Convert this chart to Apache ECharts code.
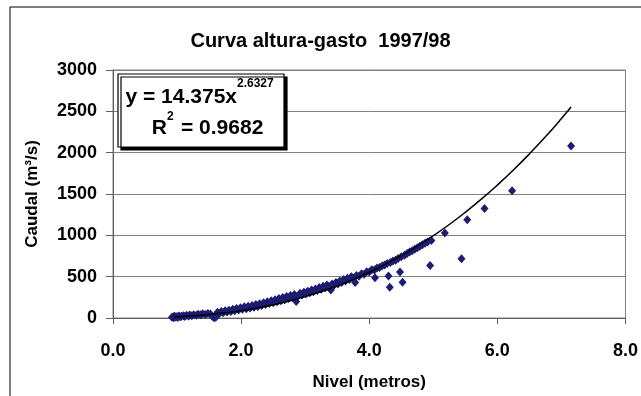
<!DOCTYPE html>
<html>
<head>
<meta charset="utf-8">
<script src="https://cdn.jsdelivr.net/npm/echarts@6/dist/echarts.min.js"></script>
<style>html,body{margin:0;padding:0;background:#fff}#c{width:641px;height:396px}</style>
</head>
<body>
<div id="c"></div>
<script>
var titleText = 'Curva altura-gasto  1997/98';
var xName = 'Nivel (metros)';
var yName = 'Caudal (m\u00b3/s)';
var xTicks = [0, 2, 4, 6, 8];
var yTicks = [0, 500, 1000, 1500, 2000, 2500, 3000];

var nivel = [0.92,0.94,0.95,0.96,0.98,1.00,1.01,1.03,1.05,1.07,1.10,1.12,1.15,1.18,1.20,1.23,1.26,1.30,1.33,1.37,1.40,1.44,1.48,1.52,1.55,1.57,1.59,1.61,1.63,1.66,1.69,1.72,1.75,1.78,1.81,1.84,1.87,1.90,1.93,1.96,1.99,2.02,2.05,2.08,2.11,2.14,2.17,2.20,2.23,2.26,2.29,2.32,2.35,2.38,2.41,2.44,2.47,2.50,2.53,2.56,2.59,2.62,2.65,2.68,2.71,2.74,2.77,2.80,2.83,2.86,2.88,2.92,2.95,2.98,3.01,3.04,3.07,3.10,3.13,3.16,3.19,3.22,3.25,3.28,3.31,3.34,3.37,3.40,3.42,3.45,3.48,3.51,3.54,3.57,3.60,3.63,3.66,3.69,3.72,3.75,3.78,3.80,3.84,3.88,3.92,3.96,4.00,4.04,4.09,4.08,4.12,4.16,4.20,4.24,4.30,4.32,4.28,4.33,4.37,4.41,4.45,4.48,4.52,4.50,4.55,4.59,4.63,4.67,4.71,4.75,4.79,4.83,4.87,4.91,4.95,4.97,5.18,5.44,5.53,5.80,6.23,7.15];
var caudal = [8,15,4,20,12,18,6,24,14,22,28,18,32,24,36,28,40,32,45,38,50,42,55,48,20,8,4,14,70,55,80,62,88,72,95,80,105,88,115,98,125,105,135,112,142,120,152,130,162,140,172,150,185,162,196,175,210,185,222,198,235,210,248,222,260,235,272,248,285,200,262,300,278,312,290,325,305,340,318,352,332,368,348,385,362,400,378,340,412,395,430,412,448,430,465,448,482,465,500,485,428,515,505,535,530,560,555,585,488,580,605,610,630,640,508,372,658,670,690,700,720,556,432,740,760,780,798,815,832,850,868,885,905,918,636,936,1028,716,1188,1325,1540,2080];

var trendX = [0.95,1.0,1.25,1.5,1.75,2.0,2.25,2.5,2.75,3.0,3.25,3.5,3.75,4.0,4.25,4.5,4.75,5.0,5.25,5.5,5.75,6.0,6.25,6.5,6.75,7.0,7.15];
var trendY = [12.6,14.4,25.9,41.8,62.7,89.2,121.6,160.4,206.2,259.2,320.1,389.0,466.6,552.9,648.7,753.8,869.0,995.0,1131,1278.6,1437.5,1608,1790,1985,2192,2412,2552];

var FONT = '"Liberation Sans", Arial, sans-serif';
var points = nivel.map(function (x, i) { return [x, caudal[i]]; });
var trend = trendX.map(function (x, i) { return [x, trendY[i]]; });

var chart = echarts.init(document.getElementById('c'), null, {renderer: 'canvas'});
chart.setOption({
  animation: false,
  backgroundColor: '#fff',
  title: {
    text: titleText,
    left: 'center',
    top: 26,
    textStyle: {fontFamily: FONT, fontWeight: 'bold', fontSize: 20, color: '#000'}
  },
  grid: {left: 113, right: 14, top: 70, bottom: 77, show: true, borderColor: '#808080', borderWidth: 1, backgroundColor: 'transparent'},
  xAxis: {
    type: 'value', min: xTicks[0], max: xTicks[xTicks.length - 1], interval: 2,
    name: xName, nameLocation: 'middle', nameGap: 56,
    nameTextStyle: {fontFamily: FONT, fontWeight: 'bold', fontSize: 17, color: '#000'},
    axisLine: {show: true, lineStyle: {color: '#606060', width: 1}},
    axisTick: {show: true, inside: false, length: 6, lineStyle: {color: '#606060'}},
    axisLabel: {formatter: function (v) { return v.toFixed(1); }, fontFamily: FONT, fontWeight: 'bold', fontSize: 18, color: '#000', margin: 24},
    splitLine: {show: false}
  },
  yAxis: {
    type: 'value', min: yTicks[0], max: yTicks[yTicks.length - 1], interval: 500,
    name: yName, nameLocation: 'middle', nameGap: 72,
    nameTextStyle: {fontFamily: FONT, fontWeight: 'bold', fontSize: 17, color: '#000'},
    axisLine: {show: true, lineStyle: {color: '#606060', width: 1}},
    axisTick: {show: true, inside: false, length: 7, lineStyle: {color: '#606060'}},
    axisLabel: {formatter: function (v) { return String(v); }, fontFamily: FONT, fontWeight: 'bold', fontSize: 18, color: '#000', margin: 16},
    splitLine: {show: true, lineStyle: {color: '#808080', width: 1}}
  },
  series: [
    {
      type: 'scatter', data: points, symbol: 'diamond', symbolSize: [8, 9],
      itemStyle: {color: '#1c1c72', opacity: 1}, z: 2
    },
    {
      type: 'line', data: trend, smooth: true, showSymbol: false, symbol: 'none',
      lineStyle: {color: '#000', width: 1.5}, z: 3
    }
  ],
  graphic: [
    {type: 'rect', shape: {x: 10, y: 7, width: 700, height: 500}, style: {fill: 'none', stroke: '#000', lineWidth: 1}, z: 0, silent: true},
    {type: 'rect', shape: {x: 118, y: 74, width: 166, height: 73},
     style: {fill: '#fff', stroke: '#000', lineWidth: 1.2, shadowColor: '#000', shadowBlur: 0, shadowOffsetX: 3, shadowOffsetY: 3}, z: 10},
    {type: 'text', x: 237, y: 97, z: 11, style: {text: 'y = 14.375x', font: 'bold 21px ' + FONT, fill: '#000', textAlign: 'right', textVerticalAlign: 'middle'}},
    {type: 'text', x: 237, y: 84, z: 11, style: {text: '2.6327', font: 'bold 12px ' + FONT, fill: '#000', textAlign: 'left', textVerticalAlign: 'middle'}},
    {type: 'text', x: 167, y: 128, z: 11, style: {text: 'R', font: 'bold 21px ' + FONT, fill: '#000', textAlign: 'right', textVerticalAlign: 'middle'}},
    {type: 'text', x: 167, y: 117, z: 11, style: {text: '2', font: 'bold 12px ' + FONT, fill: '#000', textAlign: 'left', textVerticalAlign: 'middle'}},
    {type: 'text', x: 181, y: 128, z: 11, style: {text: '= 0.9682', font: 'bold 21px ' + FONT, fill: '#000', textAlign: 'left', textVerticalAlign: 'middle'}}
  ]
});
</script>
</body>
</html>
